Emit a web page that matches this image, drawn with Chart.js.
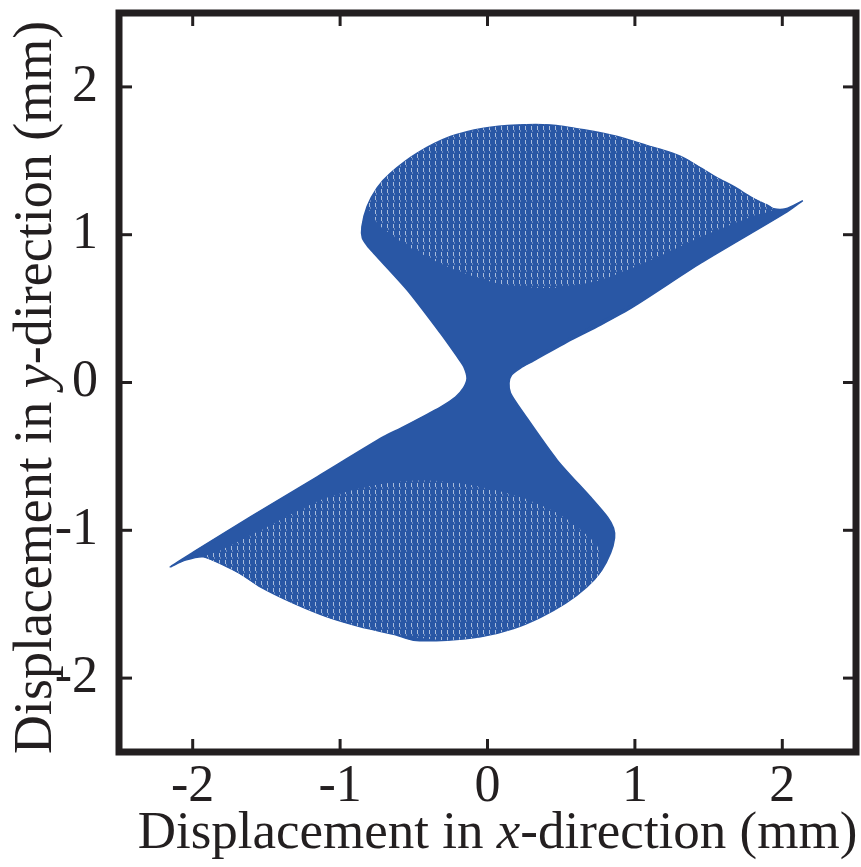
<!DOCTYPE html>
<html>
<head>
<meta charset="utf-8">
<script src="https://cdn.jsdelivr.net/npm/chart.js@4.4.1/dist/chart.umd.min.js"></script>
<style>
html,body{margin:0;padding:0;background:#fff;}
#wrap{width:861px;height:867px;position:relative;}
</style>
</head>
<body>
<div id="wrap"><canvas id="c" width="861" height="867"></canvas></div>
<script>
// ---- data (mm) ----
const xTicks = [-2, -1, 0, 1, 2];
const yTicks = [-2, -1, 0, 1, 2];
const xTickLabels = ['-2', '-1', '0', '1', '2'];
const yTickLabels = ['-2', '-1', '0', '1', '2'];
const xTitleParts = ['Displacement in ', 'x', '-direction (mm)'];
const yTitleParts = ['Displacement in ', 'y', '-direction (mm)'];

// outline of the swept trajectory (closed)
const envX = [2.139, 2.023, 1.942, 1.853, 1.763, 1.670, 1.559, 1.446, 1.331, 1.220, 1.107, 0.881, 0.654, 0.428, 0.202, -0.025, -0.251, -0.477, -0.659, -0.749, -0.817, -0.852, -0.849, -0.815, -0.772, -0.545, -0.319, -0.206, -0.161, -0.139, -0.163, -0.217, -0.319, -0.591, -0.706, -1.156, -1.609, -1.994, -2.152, -2.050, -1.928, -1.767, -1.656, -1.541, -1.317, -1.088, -0.862, -0.638, -0.502, -0.274, -0.048, 0.177, 0.360, 0.530, 0.672, 0.774, 0.835, 0.862, 0.855, 0.815, 0.699, 0.473, 0.244, 0.156, 0.146, 0.163, 0.224, 0.312, 0.541, 0.767, 0.991, 1.446, 2.035, 2.139];
const envY = [1.231, 1.175, 1.175, 1.215, 1.269, 1.326, 1.385, 1.452, 1.520, 1.563, 1.596, 1.664, 1.710, 1.743, 1.743, 1.721, 1.664, 1.552, 1.416, 1.317, 1.190, 1.055, 0.978, 0.924, 0.875, 0.626, 0.333, 0.175, 0.107, 0.028, -0.037, -0.098, -0.166, -0.310, -0.367, -0.638, -0.909, -1.146, -1.247, -1.202, -1.179, -1.247, -1.303, -1.383, -1.493, -1.586, -1.653, -1.703, -1.744, -1.744, -1.721, -1.664, -1.588, -1.493, -1.385, -1.270, -1.154, -1.052, -0.985, -0.911, -0.775, -0.525, -0.206, -0.071, -0.003, 0.051, 0.098, 0.146, 0.274, 0.389, 0.513, 0.807, 1.156, 1.231];

// open-loop (lace) part of the upper lobe
const laceUpX = [-0.817, -0.749, -0.659, -0.477, -0.251, -0.025, 0.202, 0.428, 0.654, 0.881, 1.107, 1.331, 1.559, 1.763, 1.942, 1.785, 1.446, 1.107, 0.767, 0.428, 0.088, -0.251, -0.523, -0.740];
const laceUpY = [1.190, 1.317, 1.416, 1.552, 1.664, 1.721, 1.743, 1.743, 1.710, 1.664, 1.596, 1.520, 1.385, 1.269, 1.175, 1.120, 0.985, 0.829, 0.694, 0.640, 0.667, 0.775, 0.911, 1.066];
// open-loop (lace) part of the lower lobe
const laceLoX = [-1.928, -1.767, -1.541, -1.317, -1.088, -0.862, -0.638, -0.274, -0.048, 0.177, 0.360, 0.530, 0.672, 0.774, 0.740, 0.496, 0.224, -0.115, -0.455, -0.794, -1.134, -1.473, -1.779];
const laceLoY = [-1.179, -1.247, -1.383, -1.493, -1.586, -1.653, -1.703, -1.744, -1.721, -1.664, -1.588, -1.493, -1.385, -1.270, -1.100, -0.897, -0.775, -0.694, -0.660, -0.701, -0.796, -0.965, -1.120];

// short separate stroke near the upper-right edge
const shortX = [0.36, 1.02];
const shortY = [0.19, 0.54];

// ---- build ----
const BLUE = '#2957a5';
const pts = (xs, ys) => xs.map((x, i) => ({x: x, y: ys[i]}));

function lacePattern() {
  const c = document.createElement('canvas');
  c.width = 6; c.height = 7;
  const g = c.getContext('2d');
  g.fillStyle = BLUE; g.fillRect(0, 0, 6, 7);
  g.fillStyle = 'rgba(255,255,255,0.6)';
  g.fillRect(3, 0, 1, 4);
  g.fillStyle = 'rgba(255,255,255,0.3)';
  g.fillRect(4, 4, 1, 2);
  return g.createPattern(c, 'repeat');
}

const SERIF = '"Liberation Serif", "Times New Roman", serif';

const framePlugin = {
  id: 'frame',
  afterDraw(chart) {
    const {ctx, chartArea: a, scales} = chart;
    ctx.save();
    ctx.strokeStyle = '#231f20';
    ctx.lineWidth = 3;
    const tl = 13;
    xTicks.forEach(v => {
      const px = scales.x.getPixelForValue(v);
      ctx.beginPath(); ctx.moveTo(px, a.bottom); ctx.lineTo(px, a.bottom - tl); ctx.stroke();
      ctx.beginPath(); ctx.moveTo(px, a.top); ctx.lineTo(px, a.top + tl); ctx.stroke();
    });
    yTicks.forEach(v => {
      const py = scales.y.getPixelForValue(v);
      ctx.beginPath(); ctx.moveTo(a.left, py); ctx.lineTo(a.left + tl, py); ctx.stroke();
      ctx.beginPath(); ctx.moveTo(a.right, py); ctx.lineTo(a.right - tl, py); ctx.stroke();
    });
    ctx.lineWidth = 7;
    ctx.strokeRect(a.left, a.top, a.right - a.left, a.bottom - a.top);

    // axis titles (mixed italic)
    ctx.fillStyle = '#231f20';
    ctx.textBaseline = 'alphabetic';
    function drawParts(parts, cx, cy, rot, size) {
      const fN = size + 'px ' + SERIF, fI = 'italic ' + size + 'px ' + SERIF;
      const fonts = [fN, fI, fN];
      let w = 0; const ws = [];
      parts.forEach((p, i) => { ctx.font = fonts[i]; const m = ctx.measureText(p).width; ws.push(m); w += m; });
      ctx.save();
      ctx.translate(cx, cy);
      ctx.rotate(rot);
      let x = -w / 2;
      parts.forEach((p, i) => { ctx.font = fonts[i]; ctx.fillText(p, x, 0); x += ws[i]; });
      ctx.restore();
    }
    drawParts(xTitleParts, (a.left + a.right) / 2 + 10, 848, 0, 53);
    drawParts(yTitleParts, 51, (a.top + a.bottom) / 2 + 5, -Math.PI / 2, 54);
    ctx.restore();
  }
};

new Chart(document.getElementById('c'), {
  type: 'scatter',
  data: {
    datasets: [
      {data: pts(shortX, shortY), showLine: true, borderColor: BLUE, borderWidth: 2.5, pointRadius: 0, fill: false, order: 1},
      {data: pts(laceUpX, laceUpY), showLine: true, borderWidth: 0, borderColor: 'rgba(0,0,0,0)', backgroundColor: lacePattern(), pointRadius: 0, fill: 'shape', order: 2},
      {data: pts(laceLoX, laceLoY), showLine: true, borderWidth: 0, borderColor: 'rgba(0,0,0,0)', backgroundColor: lacePattern(), pointRadius: 0, fill: 'shape', order: 2},
      {data: pts(envX, envY), showLine: true, borderColor: BLUE, borderWidth: 1.5, backgroundColor: BLUE, pointRadius: 0, fill: 'shape', order: 3}
    ]
  },
  options: {
    responsive: false,
    animation: false,
    layout: {padding: {top: 13, right: 5, left: 0, bottom: 0}},
    plugins: {legend: {display: false}, tooltip: {enabled: false}},
    elements: {line: {tension: 0.25}},
    scales: {
      x: {
        type: 'linear', min: -2.5, max: 2.5,
        grid: {display: false}, border: {display: false},
        afterBuildTicks: s => { s.ticks = xTicks.map(v => ({value: v})); },
        afterFit: s => { s.height = 115; s.paddingLeft = 0; s.paddingRight = 0; },
        ticks: {color: '#231f20', padding: -4, maxRotation: 0, font: {family: SERIF, size: 52},
          callback: (v) => xTickLabels[xTicks.indexOf(v)]}
      },
      y: {
        type: 'linear', min: -2.5, max: 2.5,
        grid: {display: false}, border: {display: false},
        afterBuildTicks: s => { s.ticks = yTicks.map(v => ({value: v})); },
        afterFit: s => { s.width = 119; s.paddingTop = 0; s.paddingBottom = 0; },
        ticks: {color: '#231f20', padding: 13, font: {family: SERIF, size: 52},
          callback: (v) => yTickLabels[yTicks.indexOf(v)]}
      }
    }
  },
  plugins: [framePlugin]
});
</script>
</body>
</html>
